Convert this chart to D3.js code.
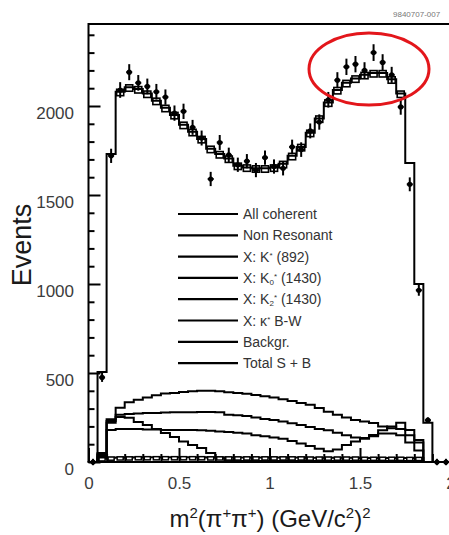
<!DOCTYPE html>
<html><head><meta charset="utf-8">
<script src="https://cdn.jsdelivr.net/npm/d3@7"></script>
<style>
body{margin:0;background:#fff;}
text{font-family:"Liberation Sans",Arial,Helvetica,sans-serif;}
</style>
</head><body>
<svg id="c" width="449" height="535"></svg>
<script>
// ---- data (m^2(pi+pi+) bins of 0.05 GeV^2) ----
const binLow = [0.00,0.05,0.10,0.15,0.20,0.25,0.30,0.35,0.40,0.45,
                0.50,0.55,0.60,0.65,0.70,0.75,0.80,0.85,0.90,0.95,
                1.00,1.05,1.10,1.15,1.20,1.25,1.30,1.35,1.40,1.45,
                1.50,1.55,1.60,1.65,1.70,1.75,1.80,1.85,1.90,1.95];
const binWidth = 0.05;
const dataEvents = [0,475,1720,2090,2190,2130,2110,2080,2050,1960,
                    1970,1880,1820,1590,1795,1725,1670,1690,1640,1710,
                    1660,1650,1770,1755,1860,1910,2035,2145,2220,2235,
                    2200,2300,2245,2175,1995,1560,965,235,0,0];
const dataErr = [18,25,40,44,45,44,44,44,43,43,
                 43,42,42,40,42,41,40,40,40,40,
                 40,40,41,41,42,43,44,45,46,46,
                 46,47,46,45,44,39,31,16,18,18];
const totalSB = [0,505,1730,2080,2105,2095,2070,2030,1990,1950,
                 1895,1855,1815,1760,1730,1705,1665,1655,1650,1650,
                 1655,1675,1720,1770,1850,1930,2020,2090,2130,2155,
                 2175,2185,2185,2150,2070,1680,1000,220,0,0];
const compA = [0,30,230,305,335,350,362,375,385,388,
               393,398,400,400,398,392,388,384,376,370,
               362,352,342,332,322,303,283,265,250,236,
               228,219,200,190,220,180,124,0,0,0];
const compB = [0,40,240,265,270,272,275,275,278,280,
               280,280,281,281,280,266,262,258,250,242,
               236,228,218,208,196,186,178,165,150,138,
               135,152,178,200,185,150,110,0,0,0];
const compC = [0,50,180,185,185,185,183,182,180,180,
               180,180,178,175,172,168,165,160,150,145,
               138,130,118,104,90,75,60,70,95,115,
               130,145,160,160,150,110,65,0,0,0];
const compD = [0,45,220,253,248,225,208,185,163,140,
               115,95,79,50,25,10,6,5,5,5,
               5,5,5,5,5,5,5,5,5,5,
               5,5,5,5,5,5,5,0,0,0];
const compBkg = [0,20,24,25,25,26,26,26,26,26,
                 26,26,26,25,25,25,25,25,25,25,
                 25,25,25,25,24,24,24,24,24,24,
                 23,23,23,23,23,22,22,0,0,0];
const legendLabels = ["All coherent","Non Resonant","X: K*(892)","X: K0*(1430)",
                      "X: K2*(1430)","X: \u03ba* B-W","Backgr.","Total S + B"];
const xMajorTicks = [0,0.5,1,1.5,2];
const xMajorLabels = ["0","0.5","1","1.5","2"];
const xMinorTicks = [0.1,0.2,0.3,0.4,0.6,0.7,0.8,0.9,1.1,1.2,1.3,1.4,1.6,1.7,1.8,1.9];
const yMajorTicks = [0,500,1000,1500,2000];
const yMinorTicks = [100,200,300,400,600,700,800,900,1100,1200,1300,1400,1600,1700,1800,1900,2100,2200,2300,2400];

// ---- drawing ----
const svg = d3.select("#c");
const x = d3.scaleLinear().domain([0,2]).range([88.5,450.5]);
const y = d3.scaleLinear().domain([0,2000]).range([462,106]);
const frameTop = 24, frameRight = 470;

function stepPts(vals){
  const pts=[[x(0),y(0)]];
  vals.forEach((v,i)=>{ pts.push([x(binLow[i]),y(v)]); pts.push([x(binLow[i]+binWidth),y(v)]); });
  pts.push([x(binLow[binLow.length-1]+binWidth),y(0)]);
  return pts;
}
const line = d3.line();

// axes (minor and major)
const gx = svg.append("g").attr("transform",`translate(0,462)`);
gx.call(d3.axisBottom(x).tickValues(xMinorTicks).tickSize(-8).tickFormat(""));
const gx2 = svg.append("g").attr("transform",`translate(0,462)`);
gx2.call(d3.axisBottom(x).tickValues(xMajorTicks).tickSize(-14).tickPadding(15)
   .tickFormat((d,i)=>xMajorLabels[i]));
const gy = svg.append("g").attr("transform",`translate(88.5,0)`);
gy.call(d3.axisLeft(y).tickValues(yMinorTicks).tickSize(-6).tickFormat(""));
const gy2 = svg.append("g").attr("transform",`translate(88.5,0)`);
gy2.call(d3.axisLeft(y).tickValues(yMajorTicks).tickSize(-12).tickPadding(14.5)
   .tickFormat(d3.format("d")));
[gx,gx2,gy,gy2].forEach(g=>{
  g.select(".domain").remove();
  g.selectAll(".tick line").attr("stroke","#000").attr("stroke-width",2);
  g.selectAll(".tick text").attr("font-size",17).attr("fill","#3c3c3c")
   .attr("font-family","Liberation Sans, Arial, sans-serif");
});
gy2.selectAll(".tick text").attr("dy","0.72em");

// frame
svg.append("path").attr("d",`M88.5,462 L88.5,${frameTop} L${frameRight},${frameTop}`)
  .attr("fill","none").attr("stroke","#000").attr("stroke-width",2);
svg.append("line").attr("x1",87.5).attr("x2",frameRight).attr("y1",462).attr("y2",462)
  .attr("stroke","#000").attr("stroke-width",2);

// component histograms
[compA,compB,compC,compD,compBkg].forEach(c=>{
  svg.append("path").attr("d",line(stepPts(c))).attr("fill","none")
    .attr("stroke","#000").attr("stroke-width",2);
});
// background boxes
svg.append("g").selectAll("rect").data(compBkg.map((v,i)=>({v,i})).filter(d=>d.v>0))
  .join("rect")
  .attr("x",d=>x(binLow[d.i])+1.5).attr("width",d=>x(binLow[d.i]+binWidth)-x(binLow[d.i])-3)
  .attr("y",d=>y(d.v+4)).attr("height",d=>y(d.v-14)-y(d.v+4))
  .attr("fill","#fff").attr("stroke","#000").attr("stroke-width",1.5);

// total S+B histogram
svg.append("path").attr("d",line(stepPts(totalSB))).attr("fill","none")
  .attr("stroke","#000").attr("stroke-width",2);
svg.append("g").selectAll("rect").data(totalSB.map((v,i)=>({v,i})).filter(d=>d.i>=3&&d.i<=34))
  .join("rect")
  .attr("x",d=>x(binLow[d.i])+1).attr("width",d=>x(binLow[d.i]+binWidth)-x(binLow[d.i])-2)
  .attr("y",d=>y(d.v+14)).attr("height",d=>y(d.v-22)-y(d.v+14))
  .attr("fill","none").attr("stroke","#000").attr("stroke-width",1.6);

// data points
const gp = svg.append("g");
dataEvents.forEach((v,i)=>{
  const cx = x(binLow[i]+binWidth/2);
  gp.append("line").attr("x1",cx).attr("x2",cx).attr("y1",y(v-dataErr[i])).attr("y2",y(v+dataErr[i]))
    .attr("stroke","#000").attr("stroke-width",2);
  gp.append("line").attr("x1",cx-3).attr("x2",cx+3).attr("y1",y(v)).attr("y2",y(v))
    .attr("stroke","#000").attr("stroke-width",2);
  gp.append("circle").attr("cx",cx).attr("cy",y(v)).attr("r",2.6).attr("fill","#000");
});

// legend
const lg = svg.append("g");
const legY0 = 214, legDy = 21.3;
legendLabels.forEach((lab,i)=>{
  const yy = legY0 + i*legDy;
  lg.append("line").attr("x1",178).attr("x2",238).attr("y1",yy).attr("y2",yy)
    .attr("stroke","#000").attr("stroke-width",2.2);
  const t = lg.append("text").attr("x",243).attr("y",yy+5).attr("font-size",14).attr("fill","#333");
  const m = lab.match(/^(X: K)([02])\*(.*)$/);
  if(m){
    t.append("tspan").text(m[1]);
    t.append("tspan").text(m[2]).attr("font-size",8).attr("dy",2);
    t.append("tspan").text("*").attr("font-size",8).attr("dy",-6);
    t.append("tspan").text(" "+m[3]).attr("dy",4);
  } else if(lab.indexOf("*")>0){
    const p = lab.split("*");
    t.append("tspan").text(p[0]);
    t.append("tspan").text("*").attr("font-size",8).attr("dy",-4);
    t.append("tspan").text(p[1].startsWith("(")?" "+p[1]:p[1]).attr("dy",4);
  } else t.text(lab);
});

// axis titles
svg.append("text").attr("transform","translate(31,245) rotate(-90)")
  .attr("text-anchor","middle").attr("font-size",27).attr("fill","#1a1a1a").text("Events");
const xt = svg.append("text").attr("x",270).attr("y",527).attr("text-anchor","middle")
  .attr("font-size",24).attr("fill","#1a1a1a");
xt.append("tspan").text("m");
xt.append("tspan").text("2").attr("font-size",15).attr("dy",-9);
xt.append("tspan").text("(\u03c0").attr("dy",9);
xt.append("tspan").text("+").attr("font-size",15).attr("dy",-9);
xt.append("tspan").text("\u03c0").attr("dy",9);
xt.append("tspan").text("+").attr("font-size",15).attr("dy",-9);
xt.append("tspan").text(") (GeV/c").attr("dy",9);
xt.append("tspan").text("2").attr("font-size",15).attr("dy",-9);
xt.append("tspan").text(")").attr("dy",9);
xt.append("tspan").text("2").attr("font-size",15).attr("dy",-9);

// corner tag
svg.append("text").attr("x",393).attr("y",17).attr("font-size",8).attr("fill","#777").text("9840707-007");

// red highlight ellipse
svg.append("ellipse").attr("cx",369).attr("cy",69).attr("rx",60).attr("ry",36)
  .attr("fill","none").attr("stroke","#e3161b").attr("stroke-width",3);
</script>
</body></html>
